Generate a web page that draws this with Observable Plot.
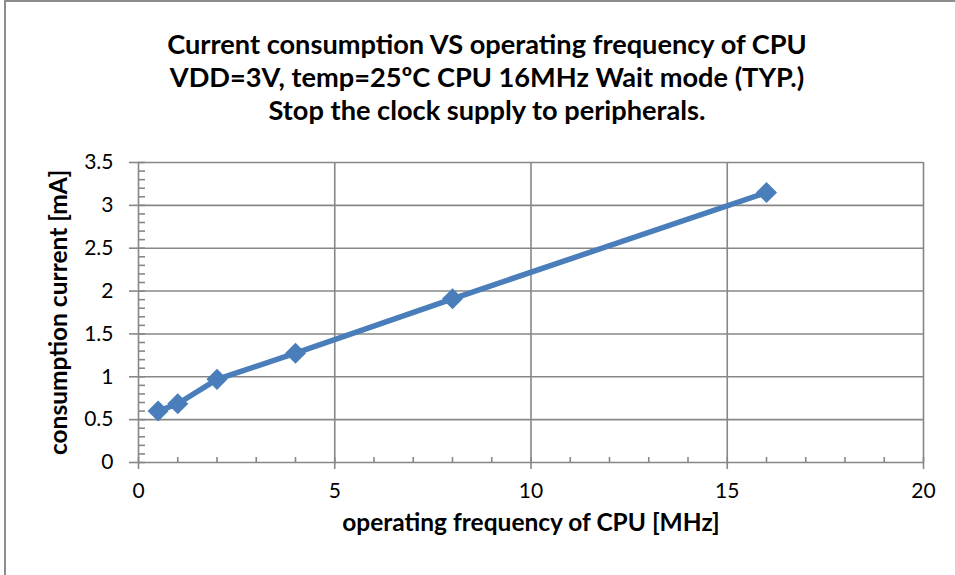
<!DOCTYPE html>
<html>
<head>
<meta charset="utf-8">
<script src="https://cdn.jsdelivr.net/npm/d3@7"></script>
<script src="https://cdn.jsdelivr.net/npm/@observablehq/plot@0.6"></script>
<style>
  html, body { margin: 0; padding: 0; background: #fff; }
  #wrap { position: relative; width: 955px; height: 575px; overflow: hidden; font-family: Lato, "Open Sans", sans-serif; }
  #border { position: absolute; left: 4px; top: 0px; width: 1200px; height: 1200px; border-left: 2px solid #8c8c8c; border-top: 2px solid #8c8c8c; box-sizing: border-box; }
  #title { position: absolute; left: 0; top: 27px; width: 974px; text-align: center; font-weight: bold; font-size: 27.2px; line-height: 33px; color: #000; }
  #chart { position: absolute; left: 0; top: 0; }
</style>
</head>
<body>
<div id="wrap">
  <div id="border"></div>
  <div id="chart"></div>
  <div id="title">Current consumption VS operating frequency of CPU<br>VDD=3V, temp=25ºC CPU 16MHz Wait mode (TYP.)<br>Stop the clock supply to peripherals.</div>
</div>
<script>
const freq = [0.5, 1, 2, 4, 8, 16];
const current = [0.60, 0.685, 0.97, 1.275, 1.91, 3.15];
const xTicks = [0, 5, 10, 15, 20];
const yTicks = [0, 0.5, 1, 1.5, 2, 2.5, 3, 3.5];
const xMinor = d3.range(0, 21, 1);
const yMinor = d3.range(0, 36, 1).map(d => d / 10);
const xLabel = "operating frequency of CPU [MHz]";
const yLabel = "consumption current [mA]";

const data = freq.map((f, i) => ({ f, c: current[i] }));
const gridColor = "#878787";
const lineColor = "#4a7ebb";

const chart = Plot.plot({
  width: 955,
  height: 575,
  marginLeft: 138,
  marginRight: 32,
  marginTop: 162,
  marginBottom: 113,
  style: { fontFamily: "Lato, 'Open Sans', sans-serif", background: "transparent", color: "#000" },
  x: { domain: [0, 20] },
  y: { domain: [0, 3.5] },
  marks: [
    Plot.gridX(xTicks, { stroke: gridColor, strokeOpacity: 1, strokeWidth: 1.6 }),
    Plot.gridY(yTicks, { stroke: gridColor, strokeOpacity: 1, strokeWidth: 1.6 }),
    Plot.axisX(xMinor, { tickSize: 5, dy: -5, stroke: gridColor, strokeWidth: 1.6, fill: "none", label: null }),
    Plot.axisY(yMinor, { tickSize: 7, dx: 7, stroke: gridColor, strokeWidth: 1.6, fill: "none", label: null }),
    Plot.axisX(xTicks, { tickSize: 7, tickPadding: 14, stroke: gridColor, strokeWidth: 1.6, fill: "#000", fontSize: 21, label: null, tickFormat: d => String(d) }),
    Plot.axisY(yTicks, { tickSize: 9, tickPadding: 16, stroke: gridColor, strokeWidth: 1.6, fill: "#000", fontSize: 21, label: null, tickFormat: d => String(d) }),
    Plot.line(data, { x: "f", y: "c", stroke: lineColor, strokeWidth: 5.5 }),
    Plot.dot(data, { x: "f", y: "c", symbol: "diamond2", r: 9.5, fill: lineColor, stroke: "none" }),
    Plot.text([xLabel], { frameAnchor: "bottom", dy: 68, fontWeight: "bold", fontSize: 24.5, fill: "#000" }),
    Plot.text([yLabel], { frameAnchor: "left", textAnchor: "middle", dx: -79, rotate: -90, fontWeight: "bold", fontSize: 24.5, fill: "#000" })
  ]
});
document.getElementById("chart").appendChild(chart);
</script>
</body>
</html>
